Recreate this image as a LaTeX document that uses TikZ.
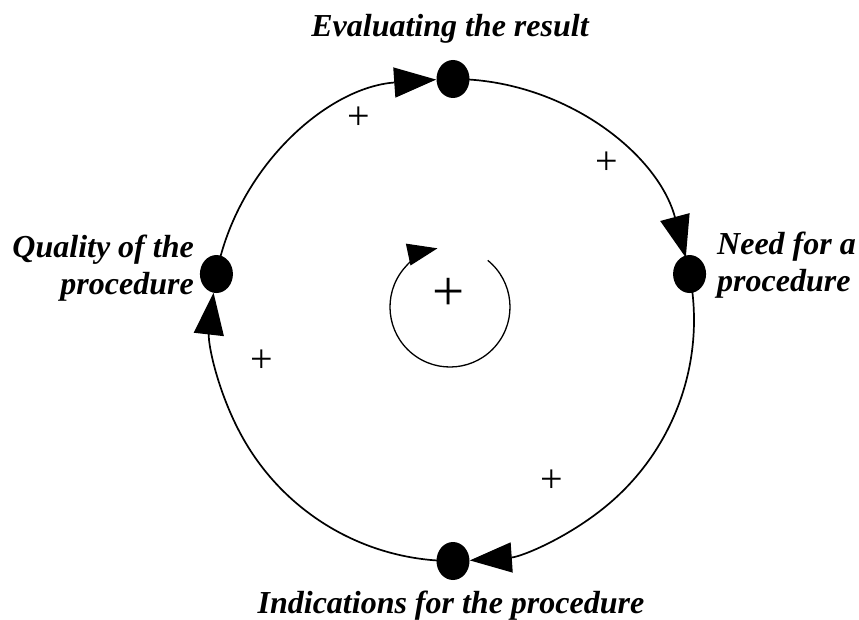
\documentclass[tikz,border=0pt]{standalone}
\usepackage{fontspec}
\setmainfont{Liberation Serif}
\usetikzlibrary{arrows.meta,shapes.geometric}

\begin{document}
\begin{tikzpicture}[x=1pt,y=1pt,
  dot/.style={ellipse,fill=black,inner sep=0pt,minimum width=33pt,minimum height=38pt},
  lbl/.style={font=\fontsize{32}{37}\selectfont\bfseries\itshape,inner sep=0pt},
  flow/.style={line width=1.7pt,-{Triangle[length=42pt,width=30pt]}},
  sign/.style={font=\fontsize{40}{40}\selectfont,inner sep=0pt}]
\useasboundingbox (-453,-299) rectangle (406,320);
% the four variables on the loop
\node[dot] (eval) at (90:241) {};
\node[dot] (need) at (11:241) {};
\node[dot] (indic) at (270:241) {};
\node[dot] (qual) at (169:241) {};
\node[lbl, anchor=base] (evaltxt) at (-3,283) {Evaluating the result};
\node[lbl, anchor=base west, align=left] (needtxt) at (264,29) {Need for a\\procedure};
\node[lbl, anchor=base] (indictxt) at (-2,-293) {Indications for the procedure};
\node[lbl, anchor=base east, align=right] (qualtxt) at (-259,26) {Quality of the\\procedure};
% links, clockwise (arcs stop at the edge of the next dot)
\draw[flow] (indic.center) arc[start angle=270, end angle=173.5, radius=241pt];
\draw[flow] (qual.center) arc[start angle=169, end angle=94, radius=241pt];
\draw[flow] (eval.center) arc[start angle=90, end angle=15, radius=241pt];
\draw[flow] (need.center) arc[start angle=11, end angle=-86, radius=241pt];
\foreach \p/\x/\y in {p1/-94/202, p2/154/157, p3/-191/-41, p4/99/-161}
  \node[sign] (\p) at (\x,\y) {+};
% reinforcing loop in the middle
\coordinate (loopc) at (-3,13);
\node[font=\fontsize{57}{57}\selectfont, inner sep=0pt] (loopsign) at (-4,26) {+};
\draw[line width=1.3pt, -{Triangle[length=30pt,width=22pt]}] ([shift={(51:60)}]loopc) arc[start angle=51, end angle=-258, radius=60pt];
\end{tikzpicture}
\end{document}
